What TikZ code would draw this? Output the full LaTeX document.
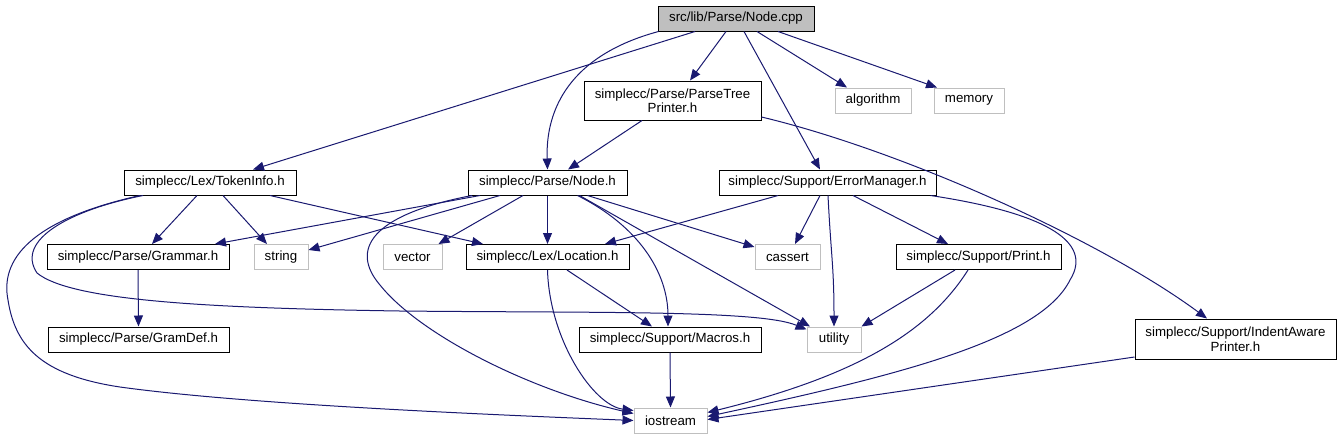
\documentclass[tikz,border=0pt]{standalone}
\usepackage{fontspec}
\setmainfont{Liberation Sans}
\usetikzlibrary{arrows.meta}
\definecolor{edgec}{HTML}{191970}
\definecolor{greyb}{HTML}{BFBFBF}
\begin{document}
\begin{tikzpicture}[x=1pt,y=-1pt,
  box/.style={draw=black, line width=1pt, inner sep=0pt, minimum height=25pt, font=\fontsize{13.3}{14.5}\selectfont, align=center, fill=white},
  sysbox/.style={box, draw=greyb},
  rootbox/.style={box, fill=greyb},
  edge/.style={draw=edgec, line width=1pt, -{Triangle[length=11pt,width=9pt]}},
]
\useasboundingbox (0,0) rectangle (1341,440);
% nodes
\node[rootbox, minimum width=156pt] (root) at (736,18.5) {src/lib/Parse/Node.cpp};
\node[box, minimum width=177pt, minimum height=39pt] (ptp) at (672.5,100.5) {simplecc/Parse/ParseTree\\Printer.h};
\node[sysbox, minimum width=76pt] (algorithm) at (873,100.5) {algorithm};
\node[sysbox, minimum width=70pt] (memory) at (969,100.5) {memory};
\node[box, minimum width=172pt] (tokeninfo) at (210,182.5) {simplecc/Lex/TokenInfo.h};
\node[box, minimum width=159pt] (nodeh) at (547.5,182.5) {simplecc/Parse/Node.h};
\node[box, minimum width=217pt] (errman) at (827.5,182.5) {simplecc/Support/ErrorManager.h};
\node[box, minimum width=182pt] (grammar) at (138,257) {simplecc/Parse/Grammar.h};
\node[sysbox, minimum width=54pt] (string) at (281,257) {string};
\node[sysbox, minimum width=59pt] (vector) at (412.5,257) {vector};
\node[box, minimum width=163pt] (location) at (547.5,257) {simplecc/Lex/Location.h};
\node[sysbox, minimum width=65pt] (cassert) at (787.5,257) {cassert};
\node[box, minimum width=165pt] (print) at (978.5,257) {simplecc/Support/Print.h};
\node[box, minimum width=181pt] (gramdef) at (138.5,339.5) {simplecc/Parse/GramDef.h};
\node[box, minimum width=182pt] (macros) at (670,339.5) {simplecc/Support/Macros.h};
\node[sysbox, minimum width=54pt] (utility) at (834,339.5) {utility};
\node[box, minimum width=201pt, minimum height=40pt] (indent) at (1235.5,339) {simplecc/Support/IndentAware\\Printer.h};
\node[sysbox, minimum width=73pt] (iostream) at (670.5,420.5) {iostream};
% edges from root
\draw[edge] ([xshift=-41pt]root.south) -- ([xshift=43pt]tokeninfo.north);
\draw[edge] ([xshift=1pt]root.south west) .. controls +(-89,24) and +(-2,-60) .. (nodeh.north);
\draw[edge] ([xshift=-10pt]root.south) -- ([xshift=17.5pt]ptp.north);
\draw[edge] ([xshift=8pt]root.south) -- ([xshift=-7.5pt]errman.north);
\draw[edge] ([xshift=21pt]root.south) -- ([xshift=-26pt]algorithm.north);
\draw[edge] ([xshift=42pt]root.south) -- ([xshift=-32pt]memory.north);
% ParseTreePrinter
\draw[edge] ([xshift=-30.5pt]ptp.south) -- ([xshift=20.5pt]nodeh.north);
\draw[edge] ([yshift=-16.5pt]ptp.east) .. controls +(139,33) and +(-107,-79) .. ([xshift=-28.5pt]indent.north);
% TokenInfo
\draw[edge] ([xshift=-13pt]tokeninfo.south) -- ([xshift=14pt]grammar.north);
\draw[edge] ([xshift=13pt]tokeninfo.south) -- ([xshift=-14pt]string.north);
\draw[edge] ([xshift=60pt]tokeninfo.south) -- ([xshift=-64.5pt]location.north);
\draw[edge] ([xshift=-67pt]tokeninfo.south) .. controls (70,210) and (15,240) .. (37,273)
   .. controls (70,300) and (200,308) .. (400,311)
   .. controls (600,313) and (760,310) .. ([yshift=-3pt]utility.north west);
\draw[edge] ([xshift=-70pt]tokeninfo.south) .. controls (30,220) and (0,260) .. (8,300)
   .. controls (15,345) and (40,375) .. (120,387)
   .. controls (250,405) and (500,415) .. (iostream.west);
% Node.h
\draw[edge] ([xshift=-67.5pt]nodeh.south) -- ([xshift=77pt]grammar.north);
\draw[edge] ([xshift=-47.5pt]nodeh.south) -- ([yshift=7pt]string.east);
\draw[edge] ([xshift=-75.5pt]nodeh.south) .. controls (370,215) and (350,250) .. (380,285)
   .. controls (420,335) and (530,390) .. ([yshift=7pt]iostream.west);
\draw[edge] ([xshift=-24.5pt]nodeh.south) -- ([xshift=26pt]vector.north);
\draw[edge] (nodeh.south) -- (location.north);
\draw[edge] ([xshift=40pt]nodeh.south) -- ([yshift=-3pt]cassert.north west);
\draw[edge] ([xshift=30pt]nodeh.south) .. controls +(60,30) and +(0,-55) .. ([xshift=-2pt]macros.north);
\draw[edge] ([xshift=32pt]nodeh.south) -- ([xshift=-24pt]utility.north);
% Location.h
\draw[edge] ([xshift=19.5pt]location.south) -- ([xshift=-18pt]macros.north);
\draw[edge] (location.south) .. controls +(2,70) and +(-40,-5) .. ([yshift=10pt]iostream.west);
% Macros.h
\draw[edge] (macros.south) -- (iostream.north);
% ErrorManager.h
\draw[edge] ([xshift=-49.5pt]errman.south) -- ([xshift=57.5pt]location.north);
\draw[edge] ([xshift=-7.5pt]errman.south) -- ([xshift=7.5pt]cassert.north);
\draw[edge] ([xshift=0.5pt]errman.south) .. controls +(3,60) and +(0,-60) .. (utility.north);
\draw[edge] ([xshift=25.5pt]errman.south) -- ([xshift=-30.5pt]print.north);
\draw[edge] ([xshift=-6pt]errman.south east) .. controls (1040,212) and (1095,240) .. (1070,280)
   .. controls (1040,340) and (900,375) .. ([yshift=4pt]iostream.east);
% Print.h
\draw[edge] ([xshift=-23.5pt]print.south) -- (utility.north east);
\draw[edge] ([xshift=-10.5pt]print.south) .. controls (930,330) and (860,375) .. ([yshift=8pt]iostream.east);
% IndentAwarePrinter.h
\draw[edge] ([yshift=-18pt]indent.west) -- ([yshift=1pt]iostream.east);
% Grammar.h
\draw[edge] (grammar.south) -- (gramdef.north);
\end{tikzpicture}
\end{document}
